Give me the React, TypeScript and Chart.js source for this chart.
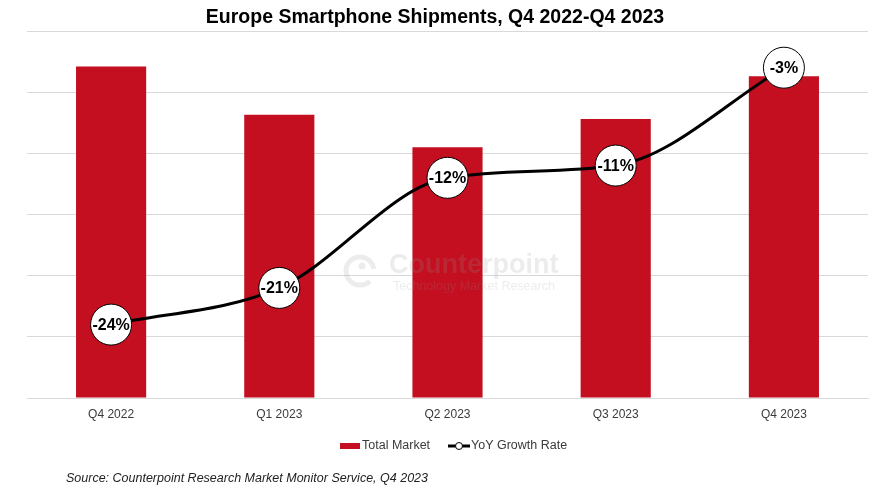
import React, { useEffect, useRef } from "react";
import { Chart, registerables } from "chart.js";

Chart.register(...registerables);

const categories = ["Q4 2022", "Q1 2023", "Q2 2023", "Q3 2023", "Q4 2023"];
const totalMarket = [54.2, 46.3, 41.0, 45.6, 52.6];
const yoyGrowth = [-24, -21, -12, -11, -3];
const yoyLabels = ["-24%", "-21%", "-12%", "-11%", "-3%"];

const TITLE = "Europe Smartphone Shipments, Q4 2022-Q4 2023";
const SOURCE = "Source: Counterpoint Research Market Monitor Service, Q4 2023";
const LEGEND_BAR = "Total Market";
const LEGEND_LINE = "YoY Growth Rate";

const FONT = "'Liberation Sans', Arial, sans-serif";
const RED = "#C30F20";
const TEXT = "#3a3a3a";

const decorPlugin = {
  id: "decor",
  afterDatasetsDraw(chart: any) {
    const ctx = chart.ctx;
    // watermark
    ctx.save();
    ctx.fillStyle = "rgba(150,150,150,0.18)";
    ctx.strokeStyle = "rgba(150,150,150,0.18)";
    ctx.lineWidth = 5;
    ctx.beginPath();
    ctx.arc(360, 271, 14, 0.25 * Math.PI, 1.95 * Math.PI);
    ctx.stroke();
    ctx.beginPath();
    ctx.arc(362, 266, 3.5, 0, Math.PI * 2);
    ctx.fill();
    ctx.textAlign = "left";
    ctx.textBaseline = "middle";
    ctx.font = `bold 27px ${FONT}`;
    ctx.fillText("Counterpoint", 389, 266);
    ctx.font = `12.5px ${FONT}`;
    ctx.fillText("Technology Market Research", 393, 287);
    ctx.restore();

    // labels inside the line points
    const meta = chart.getDatasetMeta(1);
    ctx.save();
    ctx.fillStyle = "#000";
    ctx.font = `bold 16px ${FONT}`;
    ctx.textAlign = "center";
    ctx.textBaseline = "middle";
    meta.data.forEach((pt: any, i: number) => {
      ctx.fillText(yoyLabels[i], pt.x, pt.y + 1);
    });
    ctx.restore();
  },
  afterDraw(chart: any) {
    const ctx = chart.ctx;
    ctx.save();
    // title
    ctx.fillStyle = "#000";
    ctx.font = `bold 19.5px ${FONT}`;
    ctx.textAlign = "center";
    ctx.textBaseline = "middle";
    ctx.fillText(TITLE, 435, 18);

    // legend
    ctx.fillStyle = RED;
    ctx.fillRect(340, 443, 20, 6);
    ctx.fillStyle = TEXT;
    ctx.font = `12.5px ${FONT}`;
    ctx.textAlign = "left";
    ctx.fillText(LEGEND_BAR, 362, 446);

    ctx.strokeStyle = "#000";
    ctx.lineWidth = 3;
    ctx.beginPath();
    ctx.moveTo(448, 446);
    ctx.lineTo(470, 446);
    ctx.stroke();
    ctx.beginPath();
    ctx.arc(459, 446, 3.5, 0, Math.PI * 2);
    ctx.fillStyle = "#fff";
    ctx.fill();
    ctx.lineWidth = 1;
    ctx.stroke();
    ctx.fillStyle = TEXT;
    ctx.fillText(LEGEND_LINE, 471, 446);

    // source
    ctx.font = `italic 12.5px ${FONT}`;
    ctx.fillStyle = "#222";
    ctx.fillText(SOURCE, 66, 479);
    ctx.restore();
  },
};

export default function App() {
  const ref = useRef<HTMLCanvasElement>(null);

  useEffect(() => {
    if (!ref.current) return;
    const chart = new Chart(ref.current, {
      type: "bar",
      data: {
        labels: categories,
        datasets: [
          {
            type: "bar",
            label: LEGEND_BAR,
            data: totalMarket,
            backgroundColor: RED,
            yAxisID: "y",
            order: 2,
            categoryPercentage: 1,
            barPercentage: 0.417,
          },
          {
            type: "line",
            label: LEGEND_LINE,
            data: yoyGrowth,
            yAxisID: "y2",
            order: 0,
            borderColor: "#000",
            borderWidth: 3,
            cubicInterpolationMode: "monotone",
            pointRadius: 20.5,
            pointBackgroundColor: "#fff",
            pointBorderColor: "#000",
            pointBorderWidth: 1,
            clip: false,
          } as any,
        ],
      },
      options: {
        responsive: false,
        maintainAspectRatio: false,
        animation: false,
        layout: { autoPadding: false, padding: { top: 31, left: 27, right: 2, bottom: 61.6 } },
        plugins: {
          legend: { display: false },
          title: { display: false },
          tooltip: { enabled: false },
        },
        scales: {
          x: {
            grid: { display: false, drawTicks: false },
            border: { display: true, color: "#d9d9d9", width: 1 },
            ticks: { color: TEXT, font: { family: FONT, size: 12 }, padding: 9 },
          },
          y: {
            min: 0,
            max: 60,
            ticks: { display: false, stepSize: 10 },
            grid: { color: "#d9d9d9", drawTicks: false },
            border: { display: false },
          },
          y2: {
            display: false,
            min: -30,
            max: 0,
            position: "right",
          },
        },
      } as any,
      plugins: [decorPlugin],
    });
    return () => chart.destroy();
  }, []);

  return (
    <div style={{ position: "absolute", left: 0, top: 0, width: 870, height: 492, background: "#fff" }}>
      <canvas ref={ref} width={870} height={492} />
    </div>
  );
}
